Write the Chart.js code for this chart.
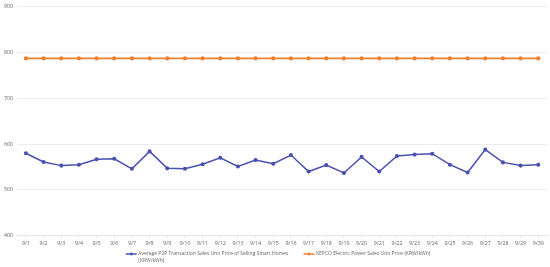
<!DOCTYPE html>
<html>
<head>
<meta charset="utf-8">
<script src="https://cdn.jsdelivr.net/npm/chart.js@4/dist/chart.umd.min.js"></script>
<style>
  html, body { margin: 0; padding: 0; background: #fff; }
  #wrap { width: 550px; height: 267px; }
</style>
</head>
<body>
<div id="wrap"><canvas id="priceChart"></canvas></div>
<script>
const days = ['9/1', '9/2', '9/3', '9/4', '9/5', '9/6', '9/7', '9/8', '9/9', '9/10',
    '9/11', '9/12', '9/13', '9/14', '9/15', '9/16', '9/17', '9/18', '9/19', '9/20',
    '9/21', '9/22', '9/23', '9/24', '9/25', '9/26', '9/27', '9/28', '9/29', '9/30'];

const p2pPrice = [580, 561, 553, 555, 567, 568, 546, 584, 547, 546,
    556, 570, 551, 565, 557, 576, 540, 554, 537, 572,
    540, 574, 577, 579, 555, 538, 588, 560, 553, 555];

const kepcoPrice = [787, 787, 787, 787, 787, 787, 787, 787, 787, 787,
    787, 787, 787, 787, 787, 787, 787, 787, 787, 787,
    787, 787, 787, 787, 787, 787, 787, 787, 787, 787];

// first legend entry wraps onto two lines in the original
const p2pLabel = ['Average P2P Transaction Sales Unit Price of Selling Smart Homes', '[KRW/kWh]'];
const kepcoLabel = ['KEPCO Electric Power Sales Unit Price (KRW/kWh)'];

const blue = 'rgb(72,80,176)';
const orange = 'rgb(240,128,48)';
const tickFont = {family: 'Open Sans', size: 5.3, lineHeight: 1};
const legendFont = '5px "Open Sans"';

// legend drawn by hand: the built-in one can't do the wrapped label with tight spacing
const bottomLegend = {
    id: 'bottomLegend',
    afterDraw(chart) {
        const ctx = chart.ctx;
        const items = chart.data.datasets.map(ds => ({lines: ds.label, color: ds.borderColor}));
        const lineLen = 11, textGap = 1.5, itemGap = 15;
        ctx.save();
        ctx.font = legendFont;
        items.forEach(it => {
            it.w = lineLen + textGap + Math.max(...it.lines.map(l => ctx.measureText(l).width));
        });
        const total = items.reduce((s, it) => s + it.w, 0) + itemGap * (items.length - 1);
        let x = chart.width / 2 + 3 - total / 2;
        const y = chart.height - 13;
        items.forEach(it => {
            ctx.strokeStyle = it.color;
            ctx.fillStyle = it.color;
            ctx.lineWidth = 1.5;
            ctx.beginPath();
            ctx.moveTo(x, y);
            ctx.lineTo(x + lineLen, y);
            ctx.stroke();
            ctx.beginPath();
            ctx.arc(x + lineLen / 2, y, 1.4, 0, Math.PI * 2);
            ctx.fill();
            ctx.fillStyle = '#666';
            ctx.textBaseline = 'middle';
            ctx.textAlign = 'left';
            it.lines.forEach((l, i) => ctx.fillText(l, x + lineLen + textGap, y + i * 6.5));
            x += it.w + itemGap;
        });
        ctx.restore();
    }
};

new Chart('priceChart', {
    type: 'line',
    data: {
        labels: days,
        datasets: [{
            label: p2pLabel,
            data: p2pPrice,
            borderColor: blue,
            backgroundColor: blue,
            borderWidth: 1.5,
            pointRadius: 1.3,
            pointHoverRadius: 1.3,
            tension: 0
        }, {
            label: kepcoLabel,
            data: kepcoPrice,
            borderColor: orange,
            backgroundColor: orange,
            borderWidth: 1.6,
            pointRadius: 1.3,
            pointHoverRadius: 1.3,
            tension: 0
        }]
    },
    options: {
        responsive: true,
        maintainAspectRatio: false,
        animation: false,
        layout: {padding: {left: 0, right: 2, top: 1, bottom: 19}},
        plugins: {
            tooltip: {enabled: false},
            legend: {display: false}
        },
        scales: {
            x: {
                offset: true,
                grid: {drawOnChartArea: false, tickLength: 3, color: '#e6e6e6'},
                border: {color: '#e6e6e6'},
                ticks: {font: tickFont, color: '#666', maxRotation: 0, autoSkip: false, padding: 2}
            },
            y: {
                min: 400,
                max: 900,
                grid: {color: '#ececec', drawTicks: false},
                border: {display: false},
                ticks: {stepSize: 100, font: tickFont, color: '#666', padding: 4}
            }
        }
    },
    plugins: [bottomLegend]
});
</script>
</body>
</html>
